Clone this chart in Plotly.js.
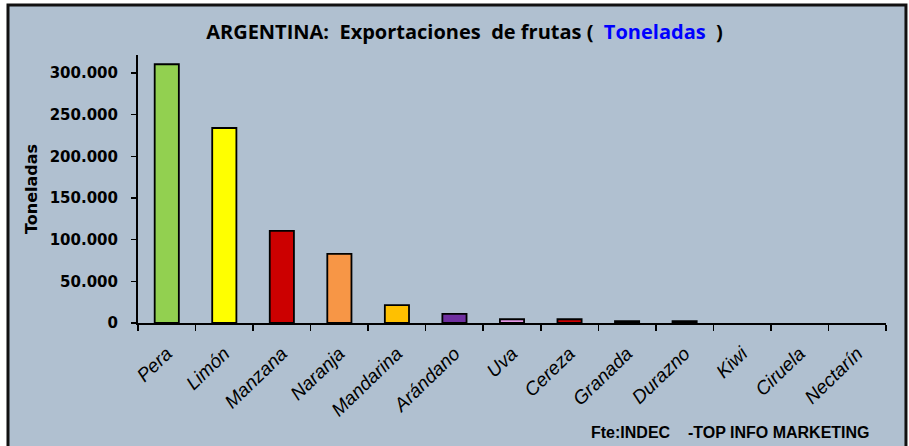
<!DOCTYPE html>
<html>
<head>
<meta charset="utf-8">
<script src="https://cdn.plot.ly/plotly-3.0.1.min.js"></script>
<style>html,body{margin:0;padding:0;background:#fff;}#chart{width:909px;height:446px;}</style>
</head>
<body>
<div id="chart"></div>
<script>
const categories = ["Pera","Limón","Manzana","Naranja","Mandarina","Arándano","Uva","Cereza","Granada","Durazno","Kiwi","Ciruela","Nectarín"];
const toneladas = [310500, 234000, 110500, 83000, 21500, 11000, 4500, 4500, 2200, 2200, 300, 200, 100];
const barColors = ["#92D050","#FFFF00","#CC0000","#F79646","#FFC000","#7030A0","#E89BE8","#CC0000","#222222","#222222","#B0C0D0","#B0C0D0","#B0C0D0"];
const yTicks = [0, 50000, 100000, 150000, 200000, 250000, 300000];

const trace = {
  type: "bar",
  x: categories,
  y: toneladas,
  marker: {color: barColors, line: {color: "#000", width: [1.8,1.8,1.8,1.8,1.8,1.8,1.8,1.8,1.8,1.8,0,0,0]}},
  hoverinfo: "x+y"
};

const layout = {
  width: 909, height: 446,
  separators: ",.",
  paper_bgcolor: "#fff",
  plot_bgcolor: "rgba(0,0,0,0)",
  margin: {l: 138, r: 23, t: 55, b: 123},
  bargap: 0.58,
  showlegend: false,
  font: {family: "Liberation Sans, Arial, sans-serif", color: "#000"},
  shapes: [{
    type: "rect", xref: "paper", yref: "paper", layer: "below",
    x0: -0.1738, x1: 1.0267, y0: -0.48, y1: 1.187,
    fillcolor: "#B0C0D0", line: {color: "#111", width: 3}
  }],
  title: {
    text: "ARGENTINA:  Exportaciones  de frutas (  <span style='color:#0000FF'>Toneladas</span>  )",
    x: 0.511, xanchor: "center", y: 0.928, yanchor: "middle",
    font: {family: "Open Sans, Liberation Sans, sans-serif", size: 20, color: "#000", weight: 700}
  },
  xaxis: {
    type: "category",
    tickangle: -44,
    tickson: "boundaries",
    ticks: "outside", ticklen: 6, tickwidth: 1.5, tickcolor: "#000",
    ticklabelstandoff: 10,
    showline: true, linecolor: "#000", linewidth: 2,
    showgrid: false, zeroline: false,
    tickfont: {family: "Liberation Sans, Arial, sans-serif", size: 19, style: "italic", color: "#000"}
  },
  yaxis: {
    range: [0, 321600],
    tickvals: yTicks,
    tickformat: ",d",
    ticks: "outside", ticklen: 5, tickwidth: 1.5, tickcolor: "#000",
    ticklabelstandoff: 10,
    showline: true, linecolor: "#000", linewidth: 2,
    showgrid: false, zeroline: false,
    tickfont: {family: "DejaVu Sans, sans-serif", size: 15, weight: 700, color: "#000"},
    title: {text: "Toneladas", standoff: 8,
      font: {family: "DejaVu Sans, sans-serif", size: 16, weight: 700, color: "#000"}}
  },
  annotations: [{
    xref: "paper", yref: "paper", x: 0.981, y: -0.407, xanchor: "right", yanchor: "middle",
    text: "Fte:INDEC    -TOP INFO MARKETING", showarrow: false,
    font: {family: "Liberation Sans Narrow, Liberation Sans, sans-serif", size: 16, weight: 700, color: "#000"}
  }]
};

Plotly.newPlot("chart", [trace], layout, {displayModeBar: false, staticPlot: true});
</script>
</body>
</html>
